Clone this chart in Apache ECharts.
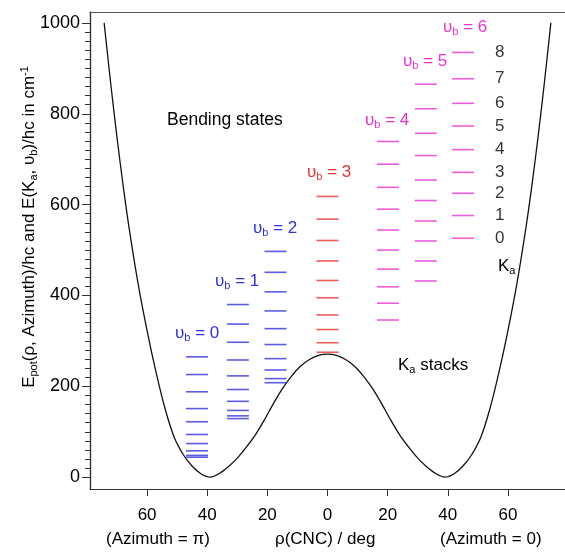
<!DOCTYPE html>
<html><head><meta charset="utf-8">
<script src="https://cdn.jsdelivr.net/npm/echarts@6/dist/echarts.min.js"></script>
<style>html,body{margin:0;padding:0;background:#fff}#c{width:565px;height:552px}</style>
</head><body><div id="c"></div>
<script>
// Potential curve (rho in deg, energy in cm-1)
const curveRho = [-74.3,-72,-70,-68,-66,-63,-60,-57,-54,-51,-48,-45,-42,-39,-36,-33,-30,-27,-24,-21,-18,-15,-12,-9,-6,-3,0,3,6,9,12,15,18,21,24,27,30,33,36,39,42,45,48,51,54,57,60,63,66,68,70,72,74.3];
const curveE   = [1000,860,747,643,549,426,322,230,150,88,50,24,7,0,8,23,42,66,93,126,162,195,222,244,259,268,271,268,259,244,222,195,162,126,93,66,42,23,8,0,7,24,50,88,150,230,322,426,549,643,747,860,1000];
// Ka stacks: rho position of each stack, energies of levels
const stackRho = [-43.4,-29.8,-17.3,0,20.1,32.7,45.1];
const stackNames = ['0','1','2','3','4','5','6'];
const levels0 = [44,48,58,74,94,122,151,188,226,265];
const levels1 = [129,135,147,167,193,223,258,297,337,380];
const levels2 = [208,217,236,261,292,327,366,408,451,497];
const levels3 = [275,296,325,357,395,433,476,521,568,618];
const levels4 = [346,383,419,458,500,544,590,638,689,739];
const levels5 = [432,476,520,564,609,654,708,757,811,865];
const levels6 = [526,576,625,671,721,773,823,877,935];
const kaLabels = ['0','1','2','3','4','5','6','7','8'];
const xTicks = [-60,-40,-20,0,20,40,60];
const yTicks = [0,200,400,600,800,1000];

const allLevels = [levels0,levels1,levels2,levels3,levels4,levels5,levels6];
const BLUE='#3232dc', RED='#e83232', MAG='#ec32d2';
const stackColors = [BLUE,BLUE,BLUE,RED,MAG,MAG,MAG];
const yMinor = []; for (let v=0; v<=1000; v+=20) yMinor.push(v);

const FONT = 'Liberation Sans, Arial, sans-serif';
const chart = echarts.init(document.getElementById('c'));
const series = [{
  type:'line', data: curveRho.map((r,i)=>[r,curveE[i]]), smooth:0.3, showSymbol:false,
  lineStyle:{color:'#111',width:1.3}, z:2, silent:true
}];
allLevels.forEach((lv,si)=>{
  series.push({
    type:'scatter', symbol:'rect', symbolSize:[22,1.6],
    itemStyle:{color:stackColors[si]}, z:3, silent:true,
    data: lv.map(e=>[stackRho[si], e])
  });
});
// Ka labels next to the υb=6 stack
series.push({
  type:'scatter', symbolSize:0, silent:true,
  data: levels6.map((e,i)=>({value:[57.3,e], label:{formatter:kaLabels[i]}})),
  label:{show:true, position:'inside', color:'#000', fontSize:17, fontFamily:FONT}
});
// invisible helper series so the minor-tick axis is not blank
series.push({
  type:'scatter', xAxisIndex:2, yAxisIndex:1, symbolSize:0, silent:true,
  itemStyle:{opacity:0}, data: yTicks.map(v=>[0.5, v])
});

function ubLabel(n, left, cy, color){
  return {type:'text', left:left, top:cy-10, z:10,
    style:{text:'υ{s|b} = '+n, fill:color, font:'17px '+FONT,
      rich:{s:{fontSize:11, fill:color, padding:[9,0,0,0], fontFamily:FONT}}}};
}
const ubPos = [[175,335],[215,283],[253,230],[307,174],[365,122],[403,63],[443,29]];

chart.setOption({
  animation:false,
  grid:[
    {left:90, top:12, width:478, height:477, containLabel:false},
    {left:90, top:12, width:20, height:477, containLabel:false}
  ],
  xAxis:[{
    type:'value', min:-79, max:79, position:'bottom', gridIndex:0,
    axisLine:{show:true, onZero:false, lineStyle:{color:'#333', width:1.2}},
    axisTick:{show:true, length:7, lineStyle:{color:'#333'}, customValues:xTicks},
    axisLabel:{show:true, margin:18, color:'#000', fontSize:17, fontFamily:FONT,
      customValues:xTicks, formatter:v=>String(Math.abs(v))},
    splitLine:{show:false}
  },{
    type:'value', min:-79, max:79, position:'top', gridIndex:0,
    axisLine:{show:true, onZero:false, lineStyle:{color:'#555', width:1.2}},
    axisTick:{show:false}, axisLabel:{show:false}, splitLine:{show:false}
  },{
    type:'value', min:0, max:1, gridIndex:1,
    axisLine:{show:false}, axisTick:{show:false}, axisLabel:{show:false}, splitLine:{show:false}
  }],
  yAxis:[{
    type:'value', min:-26, max:1024, position:'left', gridIndex:0,
    axisLine:{show:true, onZero:false, lineStyle:{color:'#333', width:1.2}},
    axisTick:{show:true, length:8, lineStyle:{color:'#333'}, customValues:yTicks},
    axisLabel:{show:true, margin:10, color:'#000', fontSize:18, fontFamily:FONT,
      customValues:yTicks, formatter:v=>String(v)},
    splitLine:{show:false}
  },{
    // minor ticks on a companion grid sharing the left edge
    type:'value', min:-26, max:1024, position:'left', gridIndex:1,
    axisLine:{show:true, onZero:false, lineStyle:{color:'#333', width:1.2}},
    axisLabel:{show:true, customValues:yMinor, formatter:()=>'', fontSize:1}, splitLine:{show:false},
    axisTick:{show:true, length:5, lineStyle:{color:'#333'}, customValues:yMinor}
  }],
  series: series,
  graphic: [
    ...ubPos.map((p,i)=>ubLabel(stackNames[i], p[0], p[1], stackColors[i])),
    {type:'text', x:29, y:227, rotation:Math.PI/2, z:10,
      style:{text:'E{s|pot}(ρ, Azimuth)/hc and E(K{s|a}, υ{s|b})/hc in cm{p|-1}', fill:'#000',
        font:'17px '+FONT, align:'center', verticalAlign:'middle',
        rich:{s:{fontSize:11, padding:[9,0,0,0], fontFamily:FONT}, p:{fontSize:11, padding:[0,0,9,0], fontFamily:FONT}}}},
    {type:'text', left:167, top:111, style:{text:'Bending states', fill:'#000', font:'17.5px '+FONT}},
    {type:'text', left:398, top:357, style:{text:'K{s|a} stacks', fill:'#000', font:'17px '+FONT,
      rich:{s:{fontSize:11, padding:[9,0,0,0], fontFamily:FONT}}}},
    {type:'text', left:498, top:258, style:{text:'K{s|a}', fill:'#000', font:'17px '+FONT,
      rich:{s:{fontSize:11, padding:[9,0,0,0], fontFamily:FONT}}}},
    {type:'text', left:106, top:531, style:{text:'(Azimuth = π)', fill:'#000', font:'17px '+FONT}},
    {type:'text', left:275, top:531, style:{text:'ρ(CNC) / deg', fill:'#000', font:'17px '+FONT}},
    {type:'text', left:440, top:531, style:{text:'(Azimuth = 0)', fill:'#000', font:'17px '+FONT}}
  ]
});
</script></body></html>
